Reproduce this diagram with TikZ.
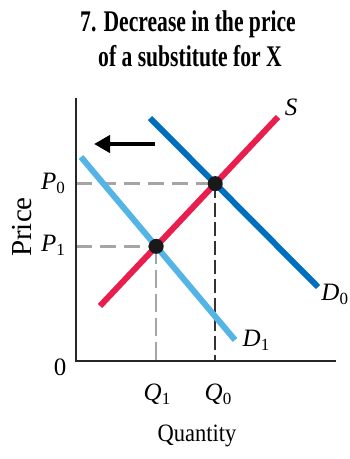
\documentclass[tikz,border=0pt]{standalone}
\usepackage{fontspec}
\setmainfont{Liberation Serif}
\usepackage{graphicx}
\usetikzlibrary{arrows.meta}
\definecolor{SupplyRed}{RGB}{232,30,78}
\definecolor{DemandBlue}{RGB}{0,112,190}
\definecolor{ShiftBlue}{RGB}{84,180,230}
\definecolor{GuideGray}{RGB}{165,165,165}
\newcommand{\cond}[2]{\scalebox{#1}[1]{#2}}
\newcommand{\lbl}[2]{\textit{#1}\raisebox{-0.35ex}{\fontsize{17}{17}\selectfont #2}}

\begin{document}
\begin{tikzpicture}[x=1pt, y=-1pt, every node/.style={inner sep=0pt, outer sep=0pt},
  curve/.style={line width=6pt},
  guide/.style={GuideGray, line width=2.5pt, dash pattern=on 16pt off 8pt},
  axislbl/.style={font=\fontsize{25}{25}\selectfont}]
	\useasboundingbox (0,0) rectangle (349,459);

	% title
	\node[font=\fontsize{30}{32}\selectfont\bfseries] (title1) at (188,24) {\cond{0.72}{7. Decrease in the price}};
	\node[font=\fontsize{30}{32}\selectfont\bfseries] (title2) at (190,56) {\cond{0.72}{of a substitute for X}};

	% curve end points
	\coordinate (o) at (76,361);
	\coordinate (ytop) at (76,98);
	\coordinate (xend) at (336,361);
	\coordinate (s1) at (100,306);
	\coordinate (s2) at (278,117);
	\coordinate (d01) at (150,118);
	\coordinate (d02) at (318,287);
	\coordinate (d11) at (81,157);
	\coordinate (d12) at (235,340);
	\coordinate (e0) at (intersection of s1--s2 and d01--d02);
	\coordinate (e1) at (intersection of s1--s2 and d11--d12);

	% guides
	\draw[guide] (e0 -| o) -- (e0);
	\draw[guide] (e1 -| o) -- (e1);
	\draw[black!80, line width=1.5pt, dash pattern=on 14pt off 5pt] (e0) -- (e0 |- o);
	\draw[guide, line width=1.5pt, dash pattern=on 18pt off 6pt] (e1) -- (e1 |- o);

	% axes
	\draw[line width=2pt, black!85] (ytop) -- (o) -- (xend);

	% curves
	\draw[curve, DemandBlue] (d01) -- (d02);
	\draw[curve, ShiftBlue] (d11) -- (d12);
	\draw[curve, SupplyRed] (s1) -- (s2);

	% equilibria
	\node[circle, fill=black!90, minimum width=13pt, minimum height=15pt] (E0) at (e0) {};
	\node[circle, fill=black!90, minimum width=13pt, minimum height=15pt] (E1) at (e1) {};

	% shift arrow
	\coordinate (a1) at (155,144);
	\coordinate (a2) at (94,144);
	\draw[line width=4pt, -{Triangle[length=16pt, width=17pt]}] (a1) -- (a2);

	% labels
	\node[font=\fontsize{29}{29}\selectfont, rotate=90] (price) at (22,227) {Price};
	\node[axislbl] (quantity) at (197,436) {\cond{0.9}{Quantity}};
	\node[axislbl] (zero) at (60,367) {0};
	\node[axislbl] (P0) at (53,183) {\lbl{P}{0}};
	\node[axislbl] (P1) at (53,245) {\lbl{P}{1}};
	\node[axislbl] (Q1) at (157,394) {\lbl{Q}{1}};
	\node[axislbl] (Q0) at (218,394) {\lbl{Q}{0}};
	\node[axislbl] (Slbl) at (291,107) {\textit{S}};
	\node[axislbl, anchor=east] (D0lbl) at (348,294) {\lbl{D}{0}};
	\node[axislbl] (D1lbl) at (256,340) {\lbl{D}{1}};
\end{tikzpicture}
\end{document}
